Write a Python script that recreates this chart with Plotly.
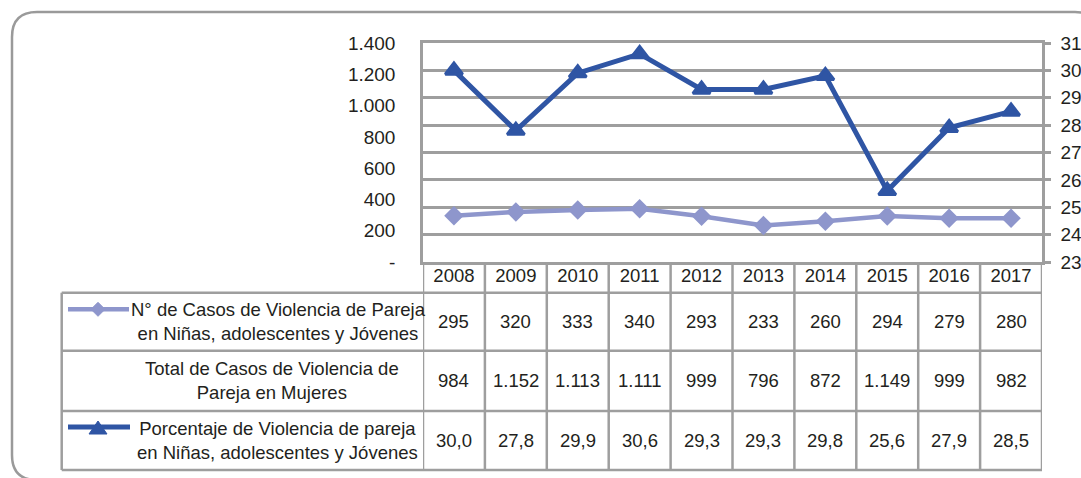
import plotly.graph_objects as go

years = ["2008", "2009", "2010", "2011", "2012", "2013", "2014", "2015", "2016", "2017"]
casos_ninas = [295, 320, 333, 340, 293, 233, 260, 294, 279, 280]
total_mujeres = [984, 1152, 1113, 1111, 999, 796, 872, 1149, 999, 982]
porcentaje = [30.0, 27.8, 29.9, 30.6, 29.3, 29.3, 29.8, 25.6, 27.9, 28.5]

left_ticks = [0, 200, 400, 600, 800, 1000, 1200, 1400]
left_ticktext = ["-", "200", "400", "600", "800", "1.000", "1.200", "1.400"]

row_labels = [
    "N° de Casos de Violencia de Pareja<br>en Niñas, adolescentes y Jóvenes",
    "Total de Casos de Violencia de<br>Pareja en Mujeres",
    "Porcentaje de Violencia de pareja<br>en Niñas, adolescentes y Jóvenes",
]

W, H = 1081, 478
FONT = "Liberation Sans, Arial, sans-serif"
TXT = "#231f20"
GRID = "#9e9e9e"
DARK = "#2f55a4"
LIGHT = "#8e96cc"
FS = 18.5


def px(x):
    return x / W


def py(y):
    return 1 - y / H


def fmt_int(v):
    return f"{v:,}".replace(",", ".")


def fmt_pct(v):
    return f"{v:.1f}".replace(".", ",")


PL, PR, PT, PB = 423, 1042, 43, 262
ROWS = [292.7, 350.7, 411, 470]
TLEFT = 61.7

fig = go.Figure()
fig.add_trace(go.Scatter(
    x=years, y=casos_ninas, mode="lines+markers", yaxis="y",
    line=dict(color=LIGHT, width=4.5),
    marker=dict(symbol="diamond", size=15, color=LIGHT),
    showlegend=False, hoverinfo="skip"))
fig.add_trace(go.Scatter(
    x=years, y=porcentaje, mode="lines+markers", yaxis="y2",
    line=dict(color=DARK, width=5),
    marker=dict(symbol="triangle-up", size=15, color=DARK,
                line=dict(color=DARK, width=3)),
    showlegend=False, hoverinfo="skip"))

shapes = []
lw = 2.5
# frame (rounded rectangle)
fx0, fy0, fx1, fy1, r = 12, 12, 1100, 480, 25
frame = (f"M {px(fx0)},{py(fy0 + r)} Q {px(fx0)},{py(fy0)} {px(fx0 + r)},{py(fy0)} "
         f"L {px(fx1 - r)},{py(fy0)} Q {px(fx1)},{py(fy0)} {px(fx1)},{py(fy0 + r)} "
         f"L {px(fx1)},{py(fy1 - r)} Q {px(fx1)},{py(fy1)} {px(fx1 - r)},{py(fy1)} "
         f"L {px(fx0 + r)},{py(fy1)} Q {px(fx0)},{py(fy1)} {px(fx0)},{py(fy1 - r)} Z")
shapes.append(dict(type="path", path=frame, xref="paper", yref="paper",
                   line=dict(color="#9a9a9a", width=2.5), layer="below"))

# table horizontal lines
for yy in ROWS:
    shapes.append(dict(type="line", xref="paper", yref="paper",
                       x0=px(TLEFT), x1=px(PR), y0=py(yy), y1=py(yy),
                       line=dict(color=GRID, width=lw)))
# left edge of table
shapes.append(dict(type="line", xref="paper", yref="paper",
                   x0=px(TLEFT), x1=px(TLEFT), y0=py(ROWS[0]), y1=py(ROWS[-1]),
                   line=dict(color=GRID, width=lw)))
# column separators along category boundaries
for i in range(len(years) + 1):
    shapes.append(dict(type="line", xref="x", yref="paper",
                       x0=i - 0.5, x1=i - 0.5, y0=py(PB), y1=py(ROWS[-1]),
                       line=dict(color=GRID, width=lw)))

# legend keys in table
k1y, k3y = 309.3, 427
shapes.append(dict(type="line", xref="paper", yref="paper",
                   x0=px(68), x1=px(129), y0=py(k1y), y1=py(k1y),
                   line=dict(color=LIGHT, width=4.5)))
shapes.append(dict(type="path", xref="paper", yref="paper",
                   path=(f"M {px(98)},{py(k1y - 7)} L {px(105)},{py(k1y)} "
                         f"L {px(98)},{py(k1y + 7)} L {px(91)},{py(k1y)} Z"),
                   fillcolor=LIGHT, line=dict(color=LIGHT, width=1)))
shapes.append(dict(type="line", xref="paper", yref="paper",
                   x0=px(68), x1=px(130), y0=py(k3y), y1=py(k3y),
                   line=dict(color=DARK, width=5)))
shapes.append(dict(type="path", xref="paper", yref="paper",
                   path=(f"M {px(98)},{py(k3y - 6)} L {px(107)},{py(k3y + 7)} "
                         f"L {px(89)},{py(k3y + 7)} Z"),
                   fillcolor=DARK, line=dict(color=DARK, width=1)))

annotations = []
row_vals = [
    [fmt_int(v) for v in casos_ninas],
    [fmt_int(v) for v in total_mujeres],
    [fmt_pct(v) for v in porcentaje],
]
for ri, vals in enumerate(row_vals):
    yc = (ROWS[ri] + ROWS[ri + 1]) / 2
    for ci, t in enumerate(vals):
        annotations.append(dict(x=ci, xref="x", y=py(yc), yref="paper",
                                text=t, showarrow=False,
                                font=dict(family=FONT, size=FS, color=TXT),
                                xanchor="center", yanchor="middle"))
label_x = [278, 272, 277]
for ri, lab in enumerate(row_labels):
    yc = (ROWS[ri] + ROWS[ri + 1]) / 2
    annotations.append(dict(x=px(label_x[ri]), xref="paper", y=py(yc), yref="paper",
                            text=lab, showarrow=False, align="center",
                            font=dict(family=FONT, size=FS, color=TXT),
                            xanchor="center", yanchor="middle"))

fig.update_layout(
    template="none",
    width=W, height=H,
    margin=dict(l=0, r=0, t=0, b=0, pad=0, autoexpand=False),
    paper_bgcolor="white", plot_bgcolor="white",
    font=dict(family=FONT, size=FS, color=TXT),
    showlegend=False,
    xaxis=dict(type="category", domain=[px(PL), px(PR)], range=[-0.5, 9.5],
               automargin=False,
               showline=True, mirror=True, linecolor=GRID, linewidth=lw,
               showgrid=False, zeroline=False, ticks="", ticklabelstandoff=-5,
               tickfont=dict(family=FONT, size=FS, color=TXT), fixedrange=True),
    yaxis=dict(domain=[py(PB), py(PT)], range=[0, 1400], automargin=False,
               tickvals=left_ticks, ticktext=left_ticktext,
               showgrid=False, zeroline=False, showline=True, linecolor=GRID,
               linewidth=lw, ticks="", ticklabelstandoff=21,
               tickfont=dict(family=FONT, size=19, color=TXT), fixedrange=True),
    yaxis2=dict(overlaying="y", side="right", range=[23, 31], dtick=1,
                automargin=False,
                showgrid=True, gridcolor=GRID, gridwidth=lw, zeroline=False,
                showline=True, linecolor=GRID, linewidth=lw,
                ticks="outside", ticklen=6, tickcolor=GRID, tickwidth=lw,
                ticklabelstandoff=6,
                tickfont=dict(family=FONT, size=19, color=TXT), fixedrange=True),
    shapes=shapes,
    annotations=annotations,
)

fig.write_html("out.html", config={"displayModeBar": False},
               post_script="document.body.style.margin='0';document.body.style.overflow='hidden';")
